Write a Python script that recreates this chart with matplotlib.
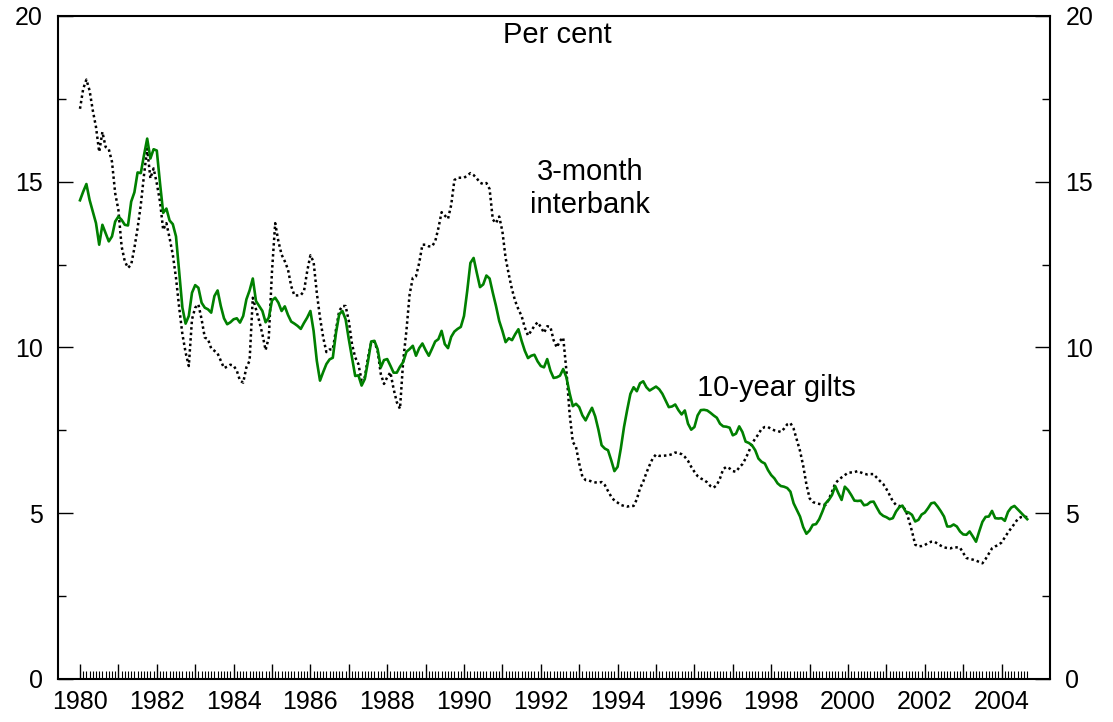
import numpy as np
import matplotlib
matplotlib.use("Agg")
import matplotlib.pyplot as plt

plt.rcParams['font.family'] = ['Liberation Sans', 'DejaVu Sans']

# monthly data, Jan 1980 - Sep 2004 (per cent)
gilts = [
    14.44, 14.7, 14.93, 14.45, 14.1, 13.75, 13.1, 13.7, 13.45, 13.2, 13.35, 13.8,        # 1980
    13.95, 13.85, 13.7, 13.68, 14.4, 14.68, 15.28, 15.26, 15.8, 16.3, 15.7, 15.98,       # 1981
    15.94, 14.96, 14.06, 14.19, 13.83, 13.72, 13.35, 12.28, 11.2, 10.72, 10.95, 11.65,   # 1982
    11.88, 11.8, 11.35, 11.2, 11.15, 11.05, 11.55, 11.72, 11.25, 10.88, 10.7, 10.76,     # 1983
    10.85, 10.88, 10.75, 10.95, 11.45, 11.72, 12.08, 11.4, 11.25, 11.1, 10.76, 10.9,     # 1984
    11.42, 11.5, 11.35, 11.1, 11.24, 10.98, 10.78, 10.72, 10.65, 10.56, 10.74, 10.9,     # 1985
    11.1, 10.5, 9.6, 9.0, 9.26, 9.5, 9.64, 9.69, 10.44, 11.0, 11.1, 10.85,               # 1986
    10.25, 9.7, 9.14, 9.16, 8.85, 9.05, 9.58, 10.18, 10.2, 9.95, 9.4, 9.62,              # 1987
    9.65, 9.45, 9.24, 9.24, 9.42, 9.56, 9.87, 9.95, 10.05, 9.75, 9.98, 10.12,            # 1988
    9.92, 9.75, 9.96, 10.18, 10.25, 10.5, 10.1, 9.98, 10.32, 10.48, 10.56, 10.62,        # 1989
    10.95, 11.7, 12.55, 12.7, 12.25, 11.82, 11.9, 12.17, 12.08, 11.65, 11.25, 10.8,      # 1990
    10.5, 10.16, 10.28, 10.22, 10.4, 10.55, 10.2, 9.9, 9.68, 9.75, 9.78, 9.58,           # 1991
    9.44, 9.4, 9.65, 9.3, 9.08, 9.1, 9.15, 9.35, 9.1, 8.62, 8.23, 8.3,                   # 1992
    8.2, 7.95, 7.8, 8.0, 8.18, 7.92, 7.52, 7.05, 6.95, 6.9, 6.6, 6.27,                   # 1993
    6.4, 6.95, 7.6, 8.12, 8.6, 8.8, 8.68, 8.92, 8.98, 8.8, 8.7, 8.76,                    # 1994
    8.82, 8.74, 8.6, 8.4, 8.2, 8.22, 8.28, 8.11, 7.98, 8.1, 7.7, 7.52,                   # 1995
    7.6, 7.95, 8.11, 8.12, 8.1, 8.03, 7.95, 7.88, 7.7, 7.62, 7.61, 7.58,                 # 1996
    7.35, 7.4, 7.62, 7.45, 7.16, 7.12, 7.05, 6.9, 6.65, 6.55, 6.5, 6.3,                  # 1997
    6.15, 6.05, 5.9, 5.82, 5.8, 5.76, 5.65, 5.3, 5.1, 4.9, 4.58, 4.38,                   # 1998
    4.48, 4.65, 4.67, 4.82, 5.05, 5.3, 5.4, 5.55, 5.82, 5.6, 5.4, 5.8,                   # 1999
    5.7, 5.55, 5.38, 5.37, 5.38, 5.24, 5.26, 5.34, 5.35, 5.17, 5.0, 4.92,                # 2000
    4.88, 4.82, 4.85, 5.05, 5.18, 5.23, 5.05, 5.02, 4.95, 4.75, 4.8, 4.96,               # 2001
    5.02, 5.15, 5.3, 5.32, 5.2, 5.06, 4.9, 4.6, 4.6, 4.66, 4.6, 4.45,                    # 2002
    4.36, 4.35, 4.45, 4.3, 4.14, 4.45, 4.74, 4.89, 4.9, 5.07, 4.85, 4.84,                # 2003
    4.85, 4.77, 5.04, 5.17, 5.22, 5.12, 5.02, 4.92, 4.82,                                # 2004
]

interbank = [
    17.2, 17.8, 18.08, 17.75, 17.15, 16.65, 15.9, 16.5, 16.05, 15.98, 15.6, 14.65,       # 1980
    14.15, 13.05, 12.6, 12.4, 12.5, 13.0, 13.6, 14.3, 15.2, 16.0, 15.1, 15.4,            # 1981
    14.95, 14.4, 13.55, 13.75, 13.3, 12.8, 12.1, 11.2, 10.4, 9.85, 9.44, 10.85,          # 1982
    11.2, 11.3, 10.85, 10.3, 10.25, 9.97, 9.9, 9.82, 9.6, 9.38, 9.42, 9.48,              # 1983
    9.45, 9.3, 9.0, 8.94, 9.4, 9.6, 11.5, 11.15, 10.8, 10.4, 9.92, 10.3,                 # 1984
    12.3, 13.75, 13.2, 12.8, 12.6, 12.35, 11.85, 11.57, 11.57, 11.58, 11.7, 12.3,        # 1985
    12.78, 12.58, 11.65, 10.9, 10.3, 9.86, 9.94, 9.94, 10.54, 11.1, 11.25, 11.25,        # 1986
    10.8, 10.1, 9.7, 9.5, 9.0, 9.1, 9.7, 10.15, 10.18, 9.9, 9.2, 8.9,                    # 1987
    9.1, 9.25, 8.75, 8.35, 8.15, 9.6, 10.5, 11.6, 12.1, 12.15, 12.55, 13.1,              # 1988
    13.1, 13.05, 13.05, 13.2, 13.6, 14.08, 13.98, 13.88, 14.3, 15.05, 15.12, 15.12,      # 1989
    15.12, 15.18, 15.26, 15.2, 15.1, 14.97, 14.93, 14.96, 14.78, 13.86, 13.75, 13.95,    # 1990
    13.5, 12.7, 12.2, 11.75, 11.4, 11.15, 10.95, 10.6, 10.36, 10.5, 10.65, 10.76,        # 1991
    10.62, 10.44, 10.64, 10.62, 10.22, 10.0, 10.2, 10.3, 9.3, 8.0, 7.15, 7.0,            # 1992
    6.5, 6.1, 6.0, 5.99, 5.95, 5.93, 5.92, 5.94, 5.85, 5.67, 5.5, 5.38,                  # 1993
    5.32, 5.25, 5.22, 5.2, 5.22, 5.22, 5.42, 5.75, 5.95, 6.22, 6.45, 6.66,               # 1994
    6.77, 6.73, 6.73, 6.74, 6.75, 6.78, 6.83, 6.82, 6.78, 6.7, 6.58, 6.4,                # 1995
    6.25, 6.12, 6.05, 6.0, 5.93, 5.82, 5.77, 5.85, 6.05, 6.33, 6.4, 6.35,                # 1996
    6.27, 6.25, 6.38, 6.48, 6.65, 6.86, 7.1, 7.25, 7.38, 7.55, 7.6, 7.6,                 # 1997
    7.54, 7.5, 7.48, 7.45, 7.55, 7.68, 7.72, 7.55, 7.22, 6.88, 6.43, 5.87,               # 1998
    5.45, 5.34, 5.3, 5.28, 5.26, 5.25, 5.42, 5.65, 5.9, 6.0, 6.08, 6.15,                 # 1999
    6.22, 6.23, 6.24, 6.27, 6.23, 6.19, 6.17, 6.18, 6.18, 6.07, 5.97, 5.88,              # 2000
    5.73, 5.55, 5.36, 5.25, 5.22, 5.2, 5.1, 4.8, 4.45, 4.05, 4.0, 4.01,                  # 2001
    4.04, 4.1, 4.14, 4.14, 4.08, 4.02, 3.97, 3.95, 3.94, 3.97, 3.97, 3.96,               # 2002
    3.8, 3.65, 3.62, 3.6, 3.57, 3.53, 3.49, 3.62, 3.78, 3.94, 4.0, 4.04,                 # 2003
    4.12, 4.27, 4.42, 4.55, 4.68, 4.82, 4.88, 4.9, 4.88,                                 # 2004
]

start_year = 1980
year_labels = [str(y) if y % 2 == 0 else '' for y in range(1980, 2005)]

t = start_year + np.arange(len(gilts)) / 12.0

fig = plt.figure(figsize=(11.13, 7.22), dpi=100)
ax = fig.add_axes([0.0521, 0.0596, 0.8913, 0.9183])

ax.plot(t, interbank, color='black', lw=1.8, linestyle=(0, (1, 1.2)))
ax.plot(t, gilts, color='#008000', lw=1.9)

ax.set_xlim(1979.427, 2005.26)
ax.set_ylim(0, 20)

ax.set_xticks(range(1980, 2005))
ax.set_xticklabels(year_labels)
ax.set_xticks(t, minor=True)
ax.set_yticks([0, 5, 10, 15, 20])
ax.set_yticks([2.5, 7.5, 12.5, 17.5], minor=True)

ax.tick_params(axis='x', which='major', direction='in', length=11, width=1,
               labelsize=18, pad=8)
ax.tick_params(axis='x', which='minor', direction='in', length=6, width=0.8)
ax.tick_params(axis='y', which='major', direction='in', length=11, width=1,
               labelsize=18, pad=11, left=True, right=True,
               labelleft=True, labelright=True)
ax.tick_params(axis='y', which='minor', direction='in', length=6, width=1,
               left=True, right=True)

for s in ax.spines.values():
    s.set_linewidth(1.5)

ax.text(0.503, 0.971, 'Per cent', transform=ax.transAxes, ha='center',
        va='center', fontsize=21)
ax.text(1993.28, 14.8, '3-month\ninterbank', ha='center', va='center',
        fontsize=21, linespacing=1.2)
ax.text(1998.13, 8.78, '10-year gilts', ha='center', va='center', fontsize=21)

fig.savefig('out.png', dpi=100)
